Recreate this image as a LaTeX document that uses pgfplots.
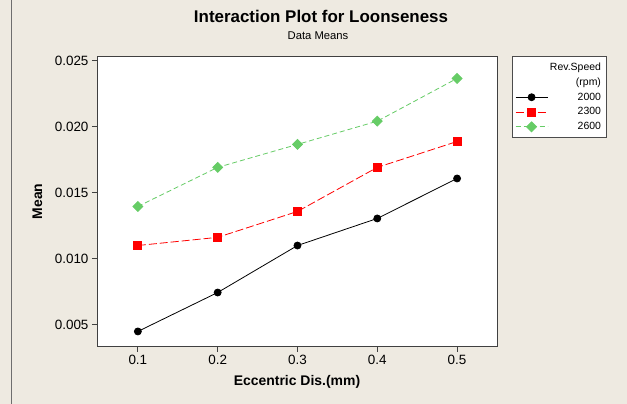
\documentclass[border=0pt]{standalone}
\usepackage{fontspec}
\setmainfont{Liberation Sans}
\usepackage{pgfplots}
\pgfplotsset{compat=1.18}
\definecolor{bgbeige}{RGB}{238,234,225}
\definecolor{mgreen}{RGB}{102,204,102}
\definecolor{framegray}{RGB}{110,110,110}

\begin{document}
\begin{tikzpicture}
\fill[bgbeige] (0,0) rectangle (627bp,403bp);
\draw[framegray, line width=1bp] (11.5bp,0) -- (11.5bp,403bp);
\node[anchor=base, font=\bfseries\fontsize{17}{20}\selectfont] at (321bp,381bp) {Interaction Plot for Loonseness};
\node[anchor=base, font=\fontsize{11.3}{13}\selectfont] at (318bp,364bp) {Data Means};
\begin{axis}[
  at={(97bp,57bp)}, anchor=south west,
  scale only axis, width=400bp, height=290bp,
  xmin=0.0488, xmax=0.55, ymin=0.00333, ymax=0.0253,
  axis background/.style={fill=white},
  axis line style={draw=black!75, line width=0.8bp},
  tick style={draw=black!75, line width=0.8bp},
  tick align=outside, major tick length=5bp,
  xtick pos=bottom, ytick pos=left,
  xtick={0.1,0.2,0.3,0.4,0.5},
  ytick={0.005,0.010,0.015,0.020,0.025},
  scaled y ticks=false, scaled x ticks=false,
  /pgf/number format/assume math mode=true,
  xticklabel style={/pgf/number format/.cd, fixed, fixed zerofill, precision=1},
  yticklabel style={/pgf/number format/.cd, fixed, fixed zerofill, precision=3},
  ticklabel style={font=\fontsize{13.5}{16}\selectfont},
  xlabel={Eccentric Dis.(mm)}, ylabel={Mean},
  xlabel style={font=\bfseries\fontsize{14}{16}\selectfont, at={(axis description cs:0.5,-0.1345)}, anchor=base},
  ylabel style={font=\bfseries\fontsize{14}{16}\selectfont, at={(axis description cs:-0.14875,0.5)}, anchor=center},
  legend cell align=right,
  legend image code/.code={\draw[mark repeat=2,mark phase=2,#1] plot coordinates {(0bp,0bp) (16bp,0bp) (32bp,0bp)};},
  legend style={at={(1,1)}, anchor=north west, xshift=15bp, draw=black!70, fill=white,
    font=\fontsize{10.5}{12}\selectfont, cells={anchor=east}, row sep=2bp,
    nodes={inner ysep=2bp}, inner xsep=3bp, inner ysep=4bp},
]
\addlegendimage{empty legend}\addlegendentry{Rev.Speed}
\addlegendimage{empty legend}\addlegendentry{(rpm)}
\addplot[black, line width=0.8bp, mark=*, mark size=3.5bp] coordinates {
  (0.1,0.00447)(0.2,0.00742)(0.3,0.01098)(0.4,0.01303)(0.5,0.01606)};
\addlegendentry{2000}
\addplot[red, line width=0.8bp, dash pattern=on 8bp off 3bp, mark=square*, mark size=4bp, mark options={solid}] coordinates {
  (0.1,0.01098)(0.2,0.01160)(0.3,0.01356)(0.4,0.01690)(0.5,0.01886)};
\addlegendentry{2300}
\addplot[mgreen, line width=0.8bp, dash pattern=on 5bp off 3bp, mark=square*, mark size=3.5bp, mark options={solid, rotate=45}] coordinates {
  (0.1,0.01394)(0.2,0.01690)(0.3,0.01864)(0.4,0.02040)(0.5,0.02364)};
\addlegendentry{2600}
\end{axis}
\end{tikzpicture}
\end{document}
